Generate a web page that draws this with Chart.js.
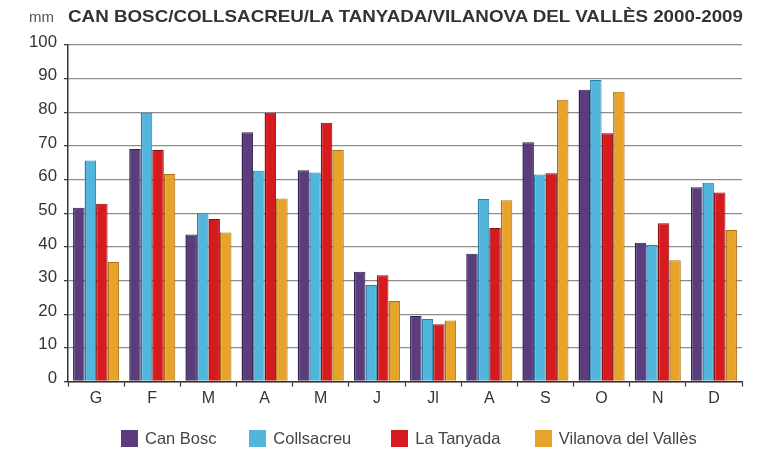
<!DOCTYPE html>
<html>
<head>
<meta charset="utf-8">
<script src="https://cdn.jsdelivr.net/npm/chart.js@4/dist/chart.umd.min.js"></script>
<style>
  html, body { margin: 0; padding: 0; background: #fff; }
  #wrap { position: relative; width: 780px; height: 455px; overflow: hidden; font-family: "Liberation Sans", Arial, sans-serif; }
  #c { position: absolute; left: 0; top: 0; }
  #unit { position: absolute; left: 29px; top: 9px; font-size: 15px; line-height: 15px; color: #555; }
  #title { position: absolute; left: 68px; top: 7.6px; font-size: 17px; line-height: 17px; font-weight: bold; color: #333; white-space: nowrap; transform-origin: 0 0; }
  .lg { position: absolute; top: 429.5px; height: 17px; display: flex; align-items: center; font-size: 16.5px; line-height: 16.5px; color: #444; white-space: nowrap; }
  .lg i { display: inline-block; width: 17px; height: 17px; margin-right: 7.3px; }
</style>
</head>
<body>
<div id="wrap">
  <canvas id="c" width="780" height="455"></canvas>
  <div id="unit">mm</div>
  <div id="title">CAN BOSC/COLLSACREU/LA TANYADA/VILANOVA DEL VALLÈS 2000-2009</div>
  <div id="legend"></div>
</div>
<script>
const months = ["G", "F", "M", "A", "M", "J", "Jl", "A", "S", "O", "N", "D"];
const yTicks = [0, 10, 20, 30, 40, 50, 60, 70, 80, 90, 100];
const seriesNames = ["Can Bosc", "Collsacreu", "La Tanyada", "Vilanova del Vallès"];
const canBosc    = [51.6, 69.1, 43.7, 74.1, 62.8, 32.6, 19.5, 38.0, 71.1, 86.7, 41.2, 57.7];
const collsacreu = [65.7, 79.9, 50.0, 62.6, 62.1, 28.7, 18.6, 54.2, 61.5, 89.6, 40.6, 59.1];
const laTanyada  = [52.8, 68.8, 48.3, 79.9, 76.9, 31.6, 17.0, 45.6, 61.9, 73.8, 47.0, 56.2];
const vilanova   = [35.5, 61.7, 44.3, 54.4, 68.8, 23.9, 18.1, 53.9, 83.7, 86.1, 36.0, 45.0];

const fills   = ["#5b3c7c", "#52b6dc", "#d61b1e", "#e8a42a"];
const borders = ["#35214d", "#2a7fa6", "#8c0f12", "#a8701a"];
const values  = [canBosc, collsacreu, laTanyada, vilanova];

// fit title width
const t = document.getElementById('title');
const w = t.getBoundingClientRect().width;
t.style.transform = 'scaleX(' + (675 / w) + ')';

// legend (HTML)
const lgLeft = [120.7, 249, 391, 534.5];
const lg = document.getElementById('legend');
seriesNames.forEach((n, i) => {
  const d = document.createElement('div');
  d.className = 'lg';
  d.style.left = lgLeft[i] + 'px';
  d.innerHTML = '<i style="background:' + fills[i] + '"></i><span>' + n + '</span>';
  lg.appendChild(d);
});

new Chart(document.getElementById('c'), {
  type: 'bar',
  data: {
    labels: months,
    datasets: seriesNames.map((n, i) => ({
      label: n,
      data: values[i],
      backgroundColor: fills[i],
      borderColor: borders[i],
      borderWidth: { left: 1.5, right: 1, top: 1, bottom: 0 },
      borderSkipped: false,
      categoryPercentage: 0.82,
      barPercentage: 1.0
    }))
  },
  options: {
    responsive: false,
    animation: false,
    devicePixelRatio: 1,
    layout: { padding: { left: 0, right: 38, top: 45, bottom: 43.5 } },
    plugins: { legend: { display: false }, tooltip: { enabled: false }, title: { display: false } },
    scales: {
      x: {
        offset: true,
        grid: { offset: true, drawOnChartArea: false, drawTicks: true, tickLength: 5, tickColor: '#333', tickWidth: 1.2 },
        border: { display: true, color: '#333', width: 1.5 },
        ticks: { color: '#333', font: { family: '"Liberation Sans", Arial, sans-serif', size: 16 }, padding: 2, maxRotation: 0, autoSkip: false },
        afterFit: s => { s.height = 30; }
      },
      y: {
        min: 0, max: 100,
        afterBuildTicks: s => { s.ticks = yTicks.map(v => ({ value: v })); },
        grid: { color: '#8d8d8d', lineWidth: 1.3, tickColor: '#333', tickLength: 4, tickWidth: 1.2 },
        border: { display: true, color: '#333', width: 1.5 },
        ticks: { color: '#333', font: { family: '"Liberation Sans", Arial, sans-serif', size: 16.8 }, padding: 7, labelOffset: -3 },
        afterFit: s => { s.width = 68; }
      }
    }
  }
});
</script>
</body>
</html>
